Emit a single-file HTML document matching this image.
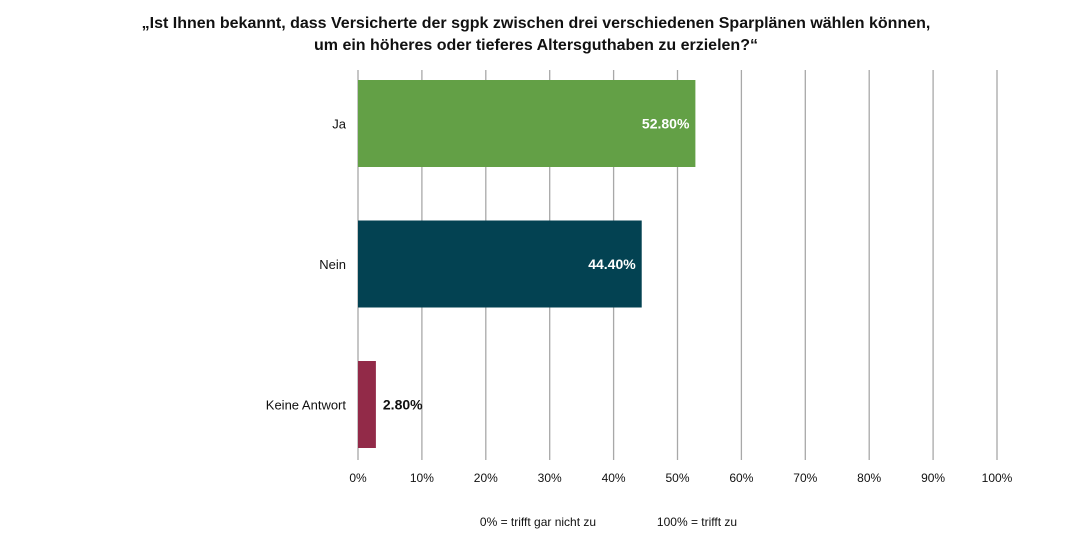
<!DOCTYPE html>
<html><head><meta charset="utf-8"><style>
body{margin:0;background:#fff;width:1072px;height:554px;overflow:hidden;font-family:"Liberation Sans",sans-serif}
svg text{font-family:"Liberation Sans",sans-serif}
</style></head><body>
<svg id="c" width="1072" height="554">
<text x="536" y="28" text-anchor="middle" font-size="16" font-weight="bold" fill="#111">„Ist Ihnen bekannt, dass Versicherte der sgpk zwischen drei verschiedenen Sparplänen wählen können,</text>
<text x="536" y="50" text-anchor="middle" font-size="16" font-weight="bold" fill="#111">um ein höheres oder tieferes Altersguthaben zu erzielen?“</text>
<text x="538" y="526" text-anchor="middle" font-size="12" fill="#111">0% = trifft gar nicht zu</text>
<text x="697" y="526" text-anchor="middle" font-size="12" fill="#111">100% = trifft zu</text>
</svg>
<script>
const categories=["Ja","Nein","Keine Antwort"];
const values=[52.8,44.4,2.8];
const valueLabels=["52.80%","44.40%","2.80%"];
const colors=["#63a046","#034252","#922a48"];
const ticks=[0,10,20,30,40,50,60,70,80,90,100];
const tickLabels=["0%","10%","20%","30%","40%","50%","60%","70%","80%","90%","100%"];
const svg=document.getElementById('c');
const NS="http://www.w3.org/2000/svg";
const x0=358,x1=997,yTop=70,yBottom=460;
const xs=v=>x0+(x1-x0)*v/100;
const band=140.5;
const ys=i=>80+band*i;
const bh=87;
function mk(t,a){const e=document.createElementNS(NS,t);for(const k in a)e.setAttribute(k,a[k]);svg.appendChild(e);return e;}
ticks.forEach((t,i)=>{
 const l=mk('line',{x1:xs(t),x2:xs(t),y1:yTop,y2:yBottom,stroke:'#a8a8a8','stroke-width':1.3});
 
 
 const tx=mk('text',{x:xs(t),y:482,'text-anchor':'middle','font-size':12,fill:'#111'});
 tx.textContent=tickLabels[i];
 
 
});
categories.forEach((c,i)=>{
 const y=ys(i);
 const r=mk('rect',{x:x0,y:y,width:xs(values[i])-x0,height:bh,fill:colors[i]});
 
 
 const lb=mk('text',{x:346,y:y+bh/2+5,'text-anchor':'end','font-size':13,fill:'#111'});
 lb.textContent=c;
 
 
 const inside=values[i]>10;
 const vx=inside?xs(values[i])-6:xs(values[i])+7;
 const vl=mk('text',{x:vx,y:y+bh/2+5,'text-anchor':inside?'end':'start','font-size':14,'font-weight':'bold',fill:inside?'#fff':'#111'});
 vl.textContent=valueLabels[i];
 
 
});
</script>
</body></html>
